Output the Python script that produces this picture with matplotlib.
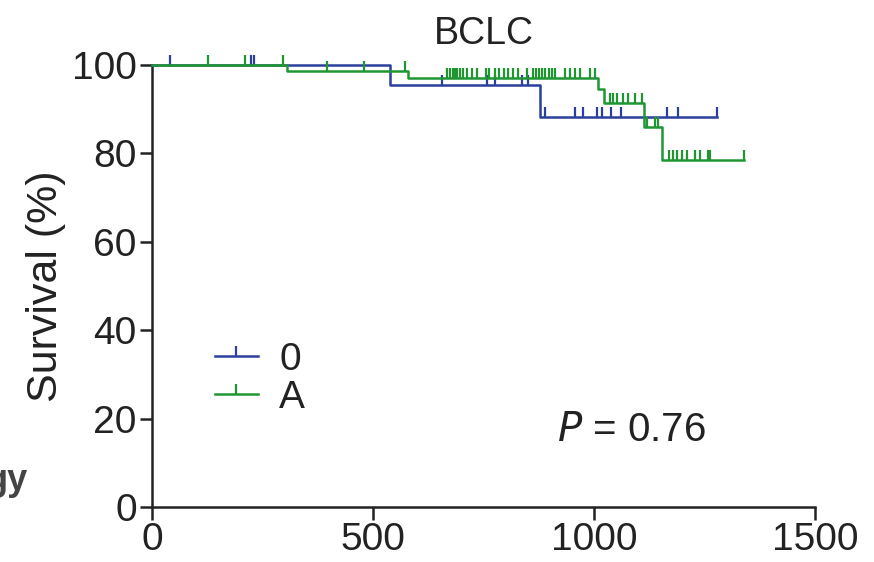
import numpy as np
import matplotlib
matplotlib.use('Agg')
from matplotlib import pyplot as plt
from matplotlib.path import Path
from matplotlib.lines import Line2D

# Kaplan-Meier steps (time in days, survival %)
blue_times = [0, 538, 878, 1278]
blue_surv = [100, 95.5, 88.2, 88.2]
blue_censor = [41, 224, 231, 656, 758, 776, 836, 850, 889, 957, 975,
               1007, 1018, 1038, 1062, 1165, 1190, 1278]

green_times = [0, 305, 579, 1008, 1022, 1112, 1154, 1339]
green_surv = [100, 98.6, 97.0, 94.5, 91.4, 86.0, 78.5, 78.5]
green_censor = [127, 210, 297, 396, 480, 572, 667, 674, 681, 686, 690, 697,
                704, 713, 724, 735, 756, 762, 776, 785, 796, 805, 817, 828,
                848, 862, 869, 875, 882, 890, 898, 905, 912, 934, 946, 957,
                968, 991, 1002, 1036, 1044, 1052, 1066, 1077, 1093, 1109,
                1120, 1138, 1145, 1170, 1179, 1188, 1199, 1210, 1229, 1240,
                1258, 1262, 1339]

groups = ['0', 'A']
colors = ['#2b3f9c', '#1f9632']
x_ticks = [0, 500, 1000, 1500]
y_ticks = [0, 20, 40, 60, 80, 100]

plt.rcParams['font.family'] = ['Liberation Sans', 'DejaVu Sans']

# censor tick sitting on top of the line
tick_mark = Path([(0, 0), (0, 1)])

fig = plt.figure(figsize=(8.74, 5.62), dpi=100)
ax = fig.add_axes([0.174, 0.098, 0.7585, 0.7865])


def km_level(times, surv, t):
    idx = np.searchsorted(times, t, side='right') - 1
    return np.array(surv)[idx]


series = [(blue_times, blue_surv, blue_censor), (green_times, green_surv, green_censor)]
for (times, surv, cens), col in zip(series, colors):
    ax.step(times, surv, where='post', color=col, lw=1.8, clip_on=False, zorder=3)
    cy = km_level(times, surv, cens)
    ax.plot(cens, cy, ls='none', marker=tick_mark, ms=14, mew=1.6,
            color=col, clip_on=False, zorder=3)

ax.set_xlim(0, 1500)
ax.set_ylim(0, 100)
ax.set_xticks(x_ticks)
ax.set_yticks(y_ticks)
for s in ['top', 'right']:
    ax.spines[s].set_visible(False)
for s in ['left', 'bottom']:
    ax.spines[s].set_linewidth(1.8)
    ax.spines[s].set_color('#222222')
ax.tick_params(axis='both', length=9, width=1.8, color='#222222',
               labelsize=28, labelcolor='#222222', pad=2)

ax.set_title('BCLC', fontsize=27, color='#222222', pad=15)
ax.set_ylabel('Survival (%)', fontsize=31, color='#222222', labelpad=4)

ax.text(1084, 17.4, '$\\it{P}$ = 0.76', fontsize=29, color='#222222',
        ha='center', va='center')

handles = [Line2D([0], [0], color=c, lw=1.8, marker=tick_mark, ms=14, mew=1.6)
           for c in colors]
fig.legend(handles, groups, loc='upper left',
           bbox_to_anchor=(215 / 874, 1 - 342 / 562), frameon=False,
           fontsize=28, handlelength=1.1, handletextpad=0.55,
           labelspacing=0.05, borderpad=0, borderaxespad=0, labelcolor='#222222')

# fragment of the neighbouring panel's label, cut by the image edge
fig.text(28 / 874, 1 - 490 / 562, 'gy', ha='right', va='baseline',
         fontsize=26, fontweight='bold', color='#444444')

fig.savefig('out.png', dpi=100)
